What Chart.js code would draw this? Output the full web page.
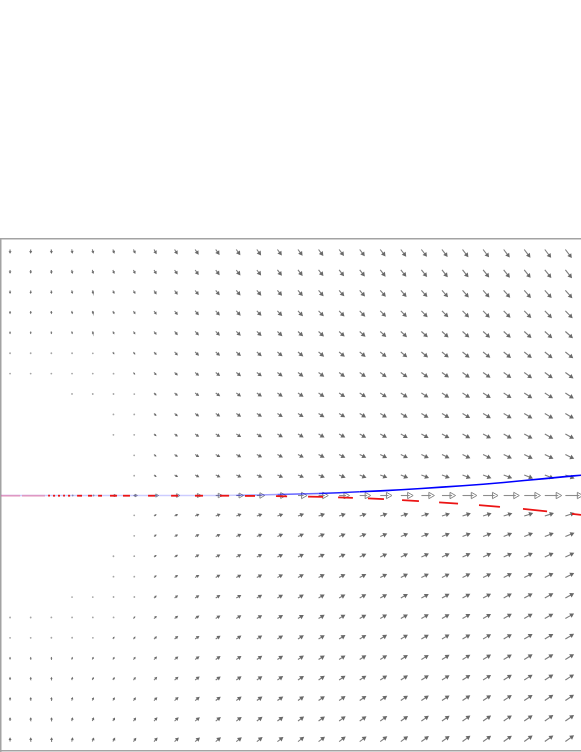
<!DOCTYPE html>
<html>
<head>
<meta charset="utf-8">
<script src="https://cdn.jsdelivr.net/npm/chart.js@4.4.1/dist/chart.umd.min.js"></script>
<style>
  html, body { margin: 0; background: #fff; }
  #wrap { position: absolute; left: 0; top: 238px; width: 581px; height: 514px; }
</style>
</head>
<body>
<div id="wrap"><canvas id="field"></canvas></div>
<script>
// grid of the direction field
const gridX = [0, 1, 2, 3, 4, 5, 6, 7, 8, 9, 10, 11, 12, 13, 14, 15, 16, 17, 18, 19, 20, 21, 22, 23, 24, 25, 26, 27];
const gridY = [12, 11, 10, 9, 8, 7, 6, 5, 4, 3, 2, 1, 0, -1, -2, -3, -4, -5, -6, -7, -8, -9, -10, -11, -12];

// arrow tilt below/above horizontal on the right side, per row (deg)
const tiltByRow = [53, 51, 48, 45, 42, 39, 36, 33, 31, 29, 26, 21, 0, 18, 22, 25, 27, 29, 30, 31, 32, 33, 34, 35, 36];
// how far the arrows turn toward vertical, per column (1 = vertical)
const bendByCol = [1, 0.95, 0.85, 0.73, 0.59, 0.46, 0.33, 0.22, 0.14, 0.09, 0.06, 0.05, 0.04, 0.03, 0.03, 0.02, 0.02, 0.01, 0.01, 0.01, 0, 0, 0, 0, 0, 0, 0, 0];
// field strength parts
const speedByCol = [0, 0.3, 0.6, 0.9, 1.2, 1.6, 2.0, 3.2, 4.0, 4.7, 5.2, 5.6, 5.9, 6.2, 6.5, 6.8, 7.0, 7.3, 7.6, 7.9, 8.2, 8.4, 8.7, 8.9, 9.1, 9.4, 9.6, 9.8];
const speedByRow = [4.3, 3.9, 3.5, 3.2, 2.8, 2.5, 2.1, 1.8, 1.4, 1.1, 0.7, 0.35, 0, 0.35, 0.7, 1.1, 1.4, 1.8, 2.1, 2.5, 2.8, 3.2, 3.5, 3.9, 4.3];
// arrows along y = 0
const axisSpeed = [0, 0.6, 1.3, 1.9, 2.6, 3.2, 3.9, 4.5, 5.2, 5.8, 6.5, 7.1, 7.8, 8.4, 9.1, 9.7, 10.4, 11.0, 11.7, 12.3, 13.0, 13.6, 14.3, 14.9, 15.6, 16.2, 16.9, 17.5];

// blue trajectory
const blueX = [-0.44, 3, 6, 9, 11, 13, 15, 17, 19, 21, 23, 25, 27, 27.8];
const blueY = [0, 0, 0, 0, 0.01, 0.05, 0.1, 0.18, 0.28, 0.41, 0.55, 0.73, 0.92, 0.99];

// red dashed trajectory, dash start/end pairs
const redX = [-0.44, 0.49, 0.58, 1.7, 1.85, 1.94, 2.09, 2.19, 2.33, 2.43, 2.58, 2.67, 2.82, 2.92,
  3.26, 3.5, 3.79, 3.99, 4.28, 4.47, 4.86, 5.2, 5.49, 5.83, 6.71, 7.05, 7.83, 8.17, 8.99, 9.38,
  10.21, 10.65, 11.42, 11.91, 12.93, 13.47, 14.49, 15.22, 15.95, 16.67, 17.4, 18.18, 19.06, 19.88,
  20.86, 21.78, 22.8, 23.82, 24.94, 26.11, 27.32, 28.49];
const redY = [-0.01, -0.01, -0.01, -0.01, -0.01, -0.01, -0.01, -0.01, -0.01, -0.01, -0.01, -0.01, -0.01, -0.01,
  -0.01, -0.01, -0.01, -0.01, -0.01, -0.01, -0.01, -0.01, -0.01, -0.01, -0.01, -0.01, -0.01, -0.01, -0.01, -0.01,
  -0.01, -0.01, -0.02, -0.02, -0.03, -0.04, -0.05, -0.07, -0.09, -0.12, -0.14, -0.18, -0.22, -0.27,
  -0.33, -0.40, -0.47, -0.55, -0.65, -0.77, -0.9, -1.02];

const QUIVER = 1 / 20.5; // data units per unit of field strength

// build arrows
const shafts = [];
const heads = [];
gridY.forEach((y, j) => {
  gridX.forEach((x, i) => {
    let len, theta;
    if (y === 0) {
      len = axisSpeed[i];
      theta = 0;
    } else {
      len = Math.hypot(speedByCol[i], speedByRow[j]);
      theta = tiltByRow[j] + (90 - tiltByRow[j]) * bendByCol[i];
    }
    if (len < 1.9) return;
    const sgn = y > 0 ? 1 : -1;
    const a = theta * Math.PI / 180;
    const ux = Math.cos(a);
    const uy = -sgn * Math.sin(a);
    const rot = sgn * theta + 90;
    if (len < 2.8) {
      heads.push({ x: x + ux * len * 0.5 * QUIVER, y: y + uy * len * 0.5 * QUIVER, r: 0.9, rot, dot: true, axis: false });
      return;
    }
    const axis = y === 0;
    const hl = Math.min(axis ? 5 : 3.8, len * 0.55);
    const r = hl / 1.35;
    shafts.push({ x, y });
    shafts.push({ x: x + ux * (len - hl * 0.7) * QUIVER, y: y + uy * (len - hl * 0.7) * QUIVER });
    shafts.push({ x, y: null });
    heads.push({ x: x + ux * (len - r) * QUIVER, y: y + uy * (len - r) * QUIVER, r, rot, dot: false, axis });
  });
});

const redPts = redX.map((x, k) => ({ x, y: redY[k] }));
const bluePts = blueX.map((x, k) => ({ x, y: blueY[k] }));

function blueAlpha(x) {
  if (x < 9.5) return 0.2;
  if (x < 12) return 0.38;
  if (x < 14) return 0.6;
  if (x < 16) return 0.85;
  return 1;
}

function headFill(c) {
  if (!c.raw) return "rgba(0,0,0,0)";
  if (c.raw.dot) return "rgb(165,165,165)";
  if (c.raw.axis) return "rgba(255,255,255,0)";
  return "rgb(105,105,105)";
}

const edge = { display: true, color: "#a3a3a3", width: 1.5 };
const noGrid = { display: false, drawTicks: false };

const ctx = document.getElementById("field").getContext("2d");
new Chart(ctx, {
  type: "line",
  data: {
    datasets: [
      {
        label: "red",
        data: redPts,
        borderColor: "rgb(235,20,20)",
        borderWidth: 1.8,
        pointRadius: 0,
        segment: {
          borderColor: (c) => {
            if (c.p0DataIndex % 2 === 1) return "rgba(0,0,0,0)";
            if (c.p0DataIndex < 4) return "rgba(235,110,150,0.55)";
            return "rgb(235,20,20)";
          }
        }
      },
      {
        label: "blue",
        data: bluePts,
        borderColor: "rgb(0,0,255)",
        borderWidth: 1.6,
        pointRadius: 0,
        tension: 0.3,
        segment: {
          borderColor: (c) => "rgba(0,0,255," + blueAlpha(c.p0.parsed.x) + ")"
        }
      },
      {
        label: "heads",
        data: heads,
        showLine: false,
        pointStyle: (c) => (c.raw && c.raw.dot ? "circle" : "triangle"),
        pointRadius: (c) => (c.raw ? c.raw.r : 0),
        rotation: (c) => (c.raw ? c.raw.rot : 0),
        backgroundColor: headFill,
        borderColor: (c) => (c.raw && c.raw.axis ? "rgb(135,135,135)" : "rgba(0,0,0,0)"),
        borderWidth: (c) => (c.raw && c.raw.axis ? 1 : 0)
      },
      {
        label: "shafts",
        data: shafts,
        borderColor: "rgb(125,125,125)",
        borderWidth: 1.1,
        pointRadius: 0,
        spanGaps: false,
        segment: {
          borderColor: (c) => (c.p0.parsed.y === 0 ? "rgb(140,140,140)" : "rgb(125,125,125)")
        }
      }
    ]
  },
  options: {
    animation: false,
    responsive: true,
    maintainAspectRatio: false,
    events: [],
    layout: { padding: { left: 1, top: 1, bottom: 1, right: 0 }, autoPadding: false },
    plugins: { legend: { display: false }, tooltip: { enabled: false } },
    scales: {
      x: { type: "linear", min: -0.44, max: 27.76, ticks: { display: false }, grid: noGrid, border: edge },
      xTop: { type: "linear", position: "top", min: -0.44, max: 27.76, ticks: { display: false }, grid: noGrid, border: edge },
      y: { type: "linear", min: -12.46, max: 12.51, ticks: { display: false }, grid: noGrid, border: edge }
    }
  }
});
</script>
</body>
</html>
